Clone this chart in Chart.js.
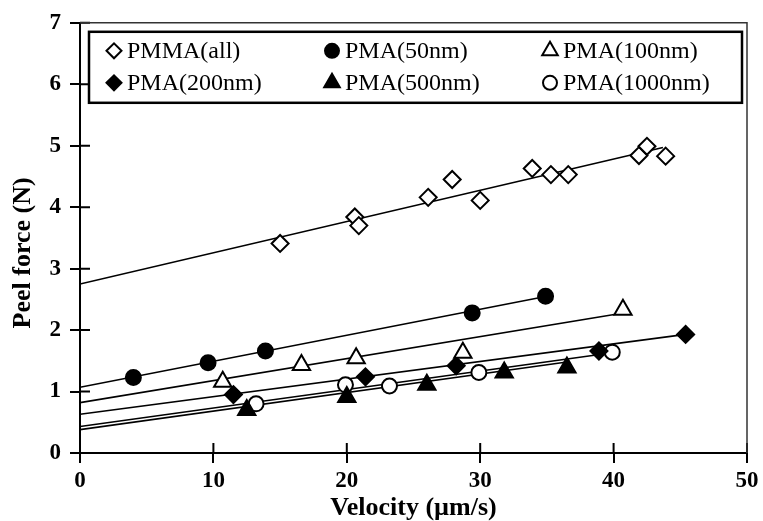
<!DOCTYPE html>
<html>
<head>
<meta charset="utf-8">
<script src="https://cdn.jsdelivr.net/npm/chart.js@4.4.1/dist/chart.umd.min.js"></script>
<style>
  html, body { margin: 0; padding: 0; background: #fff; }
</style>
</head>
<body>
<canvas id="peel-force" width="763" height="521"></canvas>
<script>
// values: velocity (um/s) and peel force (N)
const seriesNames = ['PMMA(all)', 'PMA(50nm)', 'PMA(100nm)', 'PMA(200nm)', 'PMA(500nm)', 'PMA(1000nm)'];
const xTicks = [0, 10, 20, 30, 40, 50];
const yTicks = [0, 1, 2, 3, 4, 5, 6, 7];

const pmmaAllV = [15.0, 20.6, 20.9, 26.1, 27.9, 30.0, 33.9, 35.3, 36.6, 41.9, 42.5, 43.9];
const pmmaAllF = [3.41, 3.84, 3.70, 4.16, 4.45, 4.11, 4.63, 4.53, 4.53, 4.84, 4.99, 4.83];
const pma50V = [4.0, 9.6, 13.9, 29.4, 34.9];
const pma50F = [1.23, 1.47, 1.66, 2.28, 2.55];
const pma100V = [10.7, 16.6, 20.7, 28.7, 40.7];
const pma100F = [1.16, 1.43, 1.54, 1.63, 2.33];
const pma200V = [11.5, 21.4, 28.2, 38.9, 45.4];
const pma200F = [0.95, 1.24, 1.42, 1.66, 1.93];
const pma500V = [12.5, 20.0, 26.0, 31.8, 36.5];
const pma500F = [0.70, 0.91, 1.11, 1.31, 1.39];
const pma1000V = [13.2, 19.9, 23.2, 29.9, 39.9];
const pma1000F = [0.80, 1.11, 1.09, 1.31, 1.64];

// trend lines, end points as drawn in the figure
const pmmaAllFitV = [0, 43.7];
const pmmaAllFitF = [2.75, 4.97];
const pma50FitV = [0, 35.0];
const pma50FitF = [1.07, 2.55];
const pma100FitV = [0, 40.5];
const pma100FitF = [0.82, 2.27];
const pma200FitV = [0, 45.4];
const pma200FitF = [0.63, 1.93];
const pma500FitV = [0, 36.5];
const pma500FitF = [0.38, 1.48];
const pma1000FitV = [0, 39.9];
const pma1000FitF = [0.43, 1.63];

const pts = (vs, fs) => vs.map((v, i) => ({ x: v, y: fs[i] }));

const series = [
  { v: pmmaAllV, f: pmmaAllF, fv: pmmaAllFitV, ff: pmmaAllFitF, style: 'rectRot', fill: '#fff', r: 8.5, lr: 7.5 },
  { v: pma50V, f: pma50F, fv: pma50FitV, ff: pma50FitF, style: 'circle', fill: '#000', r: 7.5, lr: 7 },
  { v: pma100V, f: pma100F, fv: pma100FitV, ff: pma100FitF, style: 'triangle', fill: '#fff', r: 10, lr: 9 },
  { v: pma200V, f: pma200F, fv: pma200FitV, ff: pma200FitF, style: 'rectRot', fill: '#000', r: 8.5, lr: 7.5 },
  { v: pma500V, f: pma500F, fv: pma500FitV, ff: pma500FitF, style: 'triangle', fill: '#000', r: 10, lr: 9 },
  { v: pma1000V, f: pma1000F, fv: pma1000FitV, ff: pma1000FitF, style: 'circle', fill: '#fff', r: 7.5, lr: 7 }
];

const datasets = [];
series.forEach((s, i) => {
  datasets.push({
    label: seriesNames[i],
    data: pts(s.v, s.f),
    pointStyle: s.style,
    pointRadius: s.r,
    pointHoverRadius: s.r,
    pointBackgroundColor: s.fill,
    pointBorderColor: '#000',
    pointBorderWidth: 2,
    showLine: false,
    order: 1
  });
  datasets.push({
    label: seriesNames[i] + ' fit',
    data: pts(s.fv, s.ff),
    showLine: true,
    pointRadius: 0,
    borderColor: '#000',
    borderWidth: 1.6,
    order: 2
  });
});

const serif = '"Liberation Serif", "Times New Roman", serif';

// cross ticks, top/right frame, y title and the boxed legend
const frame = {
  id: 'frame',
  afterDraw(chart) {
    const { ctx, chartArea: a, scales: { x, y } } = chart;
    ctx.save();
    ctx.strokeStyle = '#000';
    ctx.lineWidth = 2;
    ctx.beginPath();
    xTicks.forEach(v => {
      const px = x.getPixelForValue(v);
      ctx.moveTo(px, a.bottom);
      ctx.lineTo(px, a.bottom - 10);
    });
    yTicks.forEach(v => {
      const py = y.getPixelForValue(v);
      ctx.moveTo(a.left, py);
      ctx.lineTo(a.left + 10, py);
    });
    ctx.stroke();

    ctx.strokeStyle = '#333';
    ctx.lineWidth = 1.5;
    ctx.beginPath();
    ctx.moveTo(a.left, a.top);
    ctx.lineTo(a.right, a.top);
    ctx.lineTo(a.right, a.bottom);
    ctx.stroke();

    // legend box
    const bx = a.left + 9, by = a.top + 9, bw = a.right - 5 - bx, bh = 71;
    ctx.fillStyle = '#fff';
    ctx.fillRect(bx, by, bw, bh);
    ctx.strokeStyle = '#000';
    ctx.lineWidth = 2.5;
    ctx.strokeRect(bx, by, bw, bh);
    const cols = [34, 252, 470];
    const rows = [28, 60];
    ctx.font = '24px ' + serif;
    ctx.textAlign = 'left';
    ctx.textBaseline = 'middle';
    series.forEach((s, i) => {
      const mx = a.left + cols[i % 3];
      const my = a.top + rows[Math.floor(i / 3)];
      ctx.fillStyle = s.fill;
      ctx.strokeStyle = '#000';
      ctx.lineWidth = 2;
      Chart.helpers.drawPoint(ctx, { pointStyle: s.style, radius: s.lr, rotation: 0, borderWidth: 2 }, mx, my);
      ctx.fillStyle = '#000';
      ctx.fillText(seriesNames[i], mx + 13, my + 1);
    });

    // y axis title
    ctx.font = 'bold 26px ' + serif;
    ctx.textAlign = 'center';
    ctx.textBaseline = 'middle';
    ctx.fillStyle = '#000';
    ctx.translate(23, (a.top + a.bottom) / 2 + 15);
    ctx.rotate(-Math.PI / 2);
    ctx.fillText('Peel force (N)', 0, 0);
    ctx.restore();
  }
};

new Chart(document.getElementById('peel-force'), {
  type: 'scatter',
  data: { datasets },
  plugins: [frame],
  options: {
    responsive: false,
    animation: false,
    devicePixelRatio: 1,
    layout: { padding: { top: 18, right: 16, left: 0, bottom: 0 } },
    plugins: { legend: { display: false }, tooltip: { enabled: false } },
    scales: {
      x: {
        type: 'linear',
        min: 0,
        max: 50,
        afterBuildTicks: s => { s.ticks = xTicks.map(v => ({ value: v })); },
        afterFit: s => { s.height = 68; },
        ticks: { color: '#000', padding: 4, font: { family: serif, size: 23, weight: 'bold' } },
        grid: { drawOnChartArea: false, drawTicks: true, tickLength: 10, color: '#000', lineWidth: 2 },
        border: { display: true, color: '#000', width: 2 },
        title: {
          display: true,
          text: 'Velocity (\u00b5m/s)',
          color: '#000',
          padding: { top: 0, bottom: 0 },
          font: { family: serif, size: 26, weight: 'bold', lineHeight: 1 }
        }
      },
      y: {
        type: 'linear',
        min: 0,
        max: 7,
        afterBuildTicks: s => { s.ticks = yTicks.map(v => ({ value: v })); },
        afterFit: s => { s.width = 80; },
        ticks: { color: '#000', padding: 9, font: { family: serif, size: 23, weight: 'bold' } },
        grid: { drawOnChartArea: false, drawTicks: true, tickLength: 10, color: '#000', lineWidth: 2 },
        border: { display: true, color: '#000', width: 2 }
      }
    }
  }
});
</script>
</body>
</html>
